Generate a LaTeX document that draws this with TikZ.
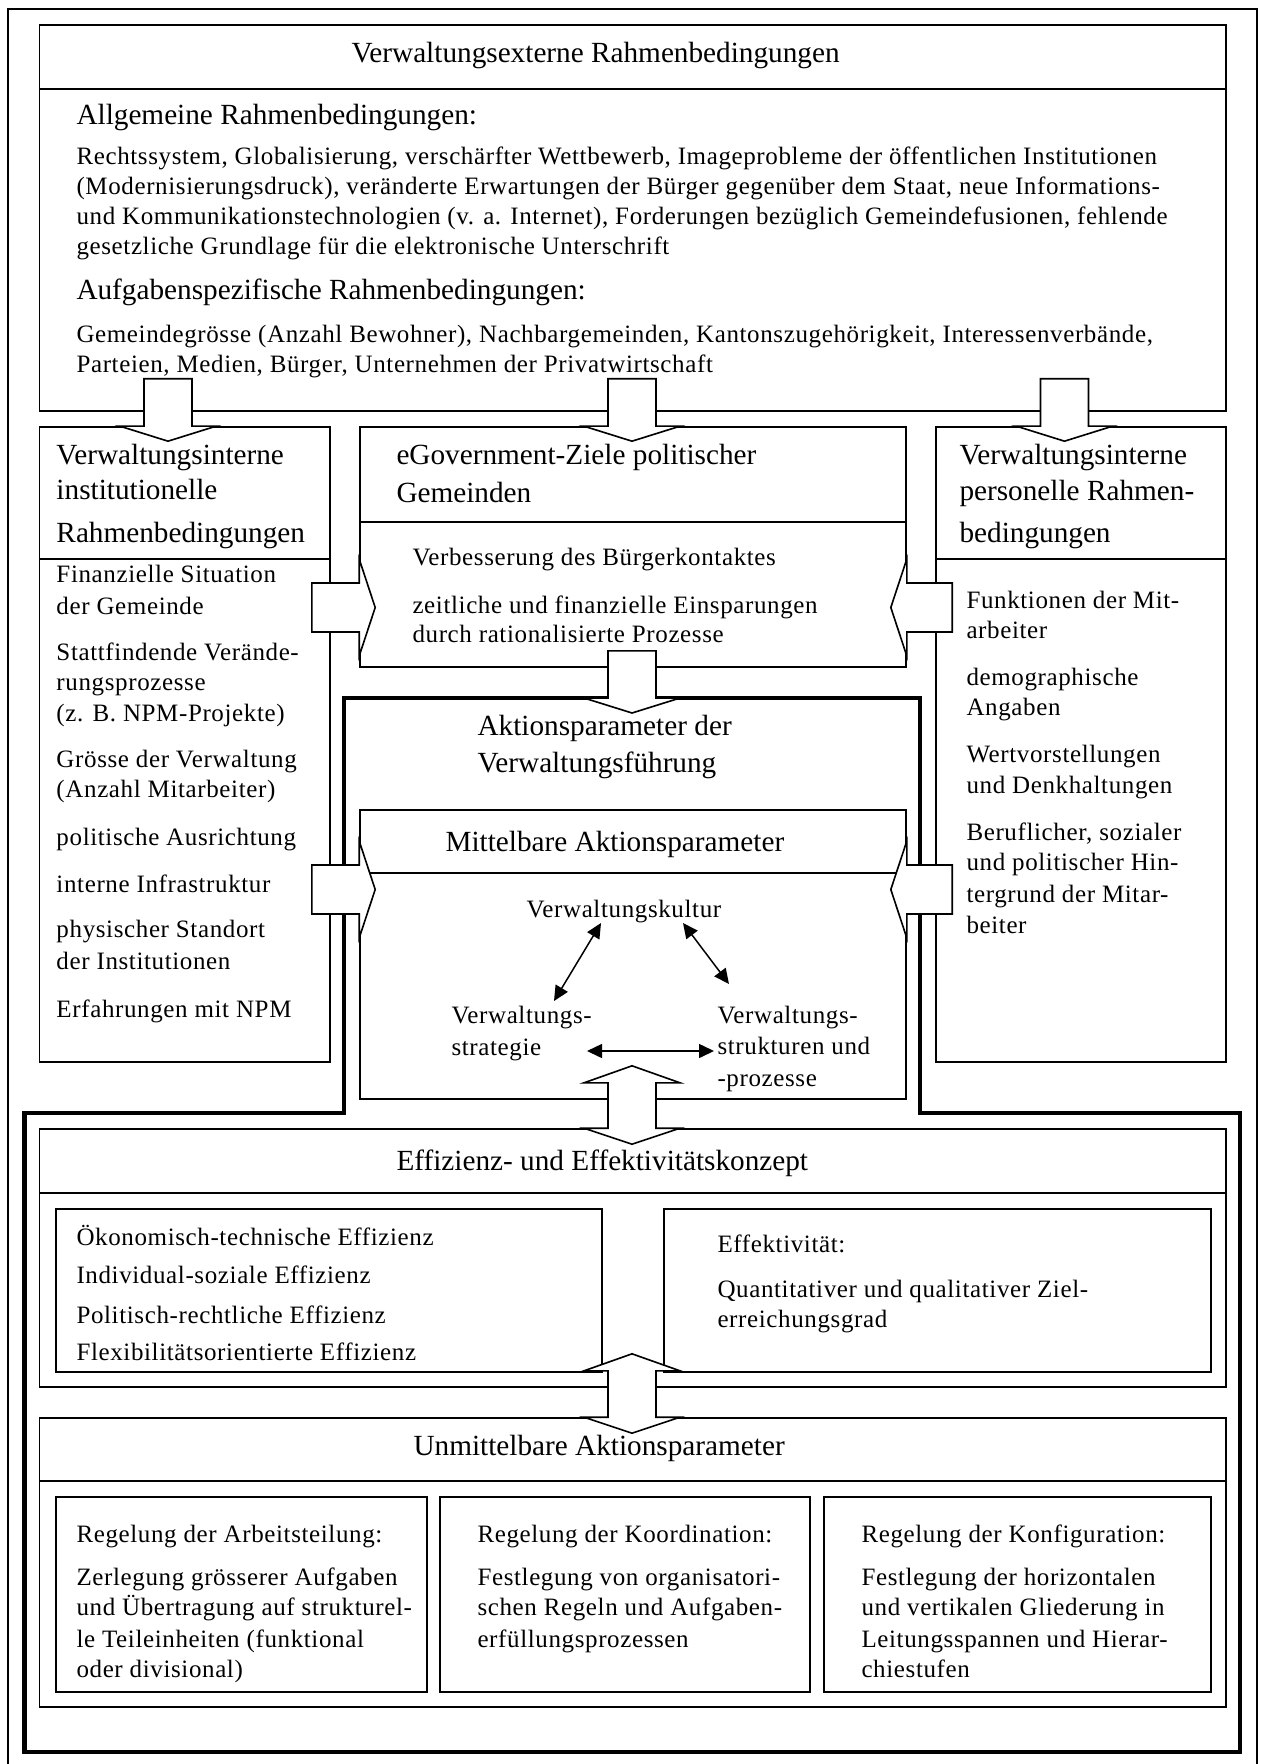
\documentclass[tikz,border=0pt]{standalone}
\usepackage{fontspec}
\setmainfont{Liberation Serif}
\newfontfamily\bodyfont[LetterSpace=2.5]{Liberation Serif}
\usetikzlibrary{calc,fit,arrows.meta}

% block arrow outlines, filled white so they cover the lines they cross
\newcommand\blkdown[2]{% #1 top of shaft, #2 centre of head base
  \draw[blockarrow] ($(#1)+(-24,0)$) -- ($(#1)+(24,0)$) -- ($(#2)+(24,0)$) -- ($(#2)+(48,0)$)
    -- ($(#2)+(0,15)$) -- ($(#2)+(-48,0)$) -- ($(#2)+(-24,0)$) -- cycle;}
\newcommand\blkside[3]{% #1 end of shaft, #2 centre of head base, #3 signed tip length
  \draw[blockarrow] ($(#1)+(0,-24.5)$) -- ($(#2)+(0,-24.5)$) -- ($(#2)+(0,-48.5)$) -- ($(#2)+(#3,0)$)
    -- ($(#2)+(0,48.5)$) -- ($(#2)+(0,24.5)$) -- ($(#1)+(0,24.5)$) -- cycle;}
\newcommand\blkupdown[2]{% #1 upper head base, #2 lower head base
  \draw[blockarrow] ($(#1)+(-24,0)$) -- ($(#1)+(-48,0)$) -- ($(#1)+(0,-17)$) -- ($(#1)+(48,0)$)
    -- ($(#1)+(24,0)$) -- ($(#2)+(24,0)$) -- ($(#2)+(48,0)$) -- ($(#2)+(0,16)$)
    -- ($(#2)+(-48,0)$) -- ($(#2)+(-24,0)$) -- cycle;}

\begin{document}
\begin{tikzpicture}[x=0.4pt,y=-0.4pt,
  box/.style={draw, line width=0.65pt, inner sep=0pt},
  blockarrow/.style={draw, fill=white, line width=0.65pt, line join=miter},
  thickframe/.style={line width=1.8pt, line join=miter},
  head/.style={anchor=base west, inner sep=0pt, font=\fontsize{11.7}{14}\selectfont},
  txt/.style={anchor=base west, inner sep=0pt, font=\bodyfont\fontsize{10}{12}\selectfont},
  dbl/.style={{Triangle[length=6pt,width=5.6pt]}-{Triangle[length=6pt,width=5.6pt]}, line width=0.6pt}
]
\useasboundingbox (0,0) rectangle (1260,1764);

% outer thin frame
\draw[line width=0.65pt] (8,1764) -- (8,9) -- (1257,9) -- (1257,1764);

% boxes
\node[box, fit={(39.6,25) (1226,89)}] (exthead) {};
\node[box, fit={(39.6,89) (1226,411)}] (extbody) {};
\node[box, fit={(39.6,427) (330,559)}] (lhead) {};
\node[box, fit={(39.6,559) (330,1062)}] (lbody) {};
\node[box, fit={(360,427) (906,522)}] (eghead) {};
\node[box, fit={(360,522) (906,667)}] (egbody) {};
\node[box, fit={(936,427) (1226,559)}] (rhead) {};
\node[box, fit={(936,559) (1226,1062)}] (rbody) {};
\node[box, fit={(360,810) (906,873)}] (mhead) {};
\node[box, fit={(360,873) (906,1099)}] (mbody) {};
\node[box, fit={(39.6,1129) (1226,1193)}] (effhead) {};
\node[box, fit={(39.6,1193) (1226,1387)}] (effbody) {};
\node[box, fit={(56,1209) (602,1372)}] (effL) {};
\node[box, fit={(664,1209) (1211,1372)}] (effR) {};
\node[box, fit={(39.6,1418) (1226,1481)}] (unhead) {};
\node[box, fit={(39.6,1481) (1226,1707)}] (unbody) {};
\node[box, fit={(56,1497) (427,1692)}] (un1) {};
\node[box, fit={(440,1497) (810,1692)}] (un2) {};
\node[box, fit={(824,1497) (1211,1692)}] (un3) {};

% heavy outline around the action parameters
\draw[thickframe] (344,698) -- (920,698) -- (920,1113) -- (1240,1113) -- (1240,1752)
  -- (24.5,1752) -- (24.5,1113) -- (344,1113) -- cycle;
\coordinate (akttop) at (632,698);

% arrow columns and rows
\coordinate (colL) at (168,0);
\coordinate (colC) at (632,0);
\coordinate (colR) at (1064.5,0);
\coordinate (rowA) at (0,607.5);
\coordinate (rowB) at (0,889.5);

% downward arrows from the external conditions
\path (extbody.south -| colL) ++(0,-33) coordinate (aLt);
\path (lhead.north -| colL) coordinate (aLb);
\path (extbody.south -| colC) ++(0,-33) coordinate (aCt);
\path (eghead.north -| colC) coordinate (aCb);
\path (extbody.south -| colR) ++(0,-33) coordinate (aRt);
\path (rhead.north -| colR) coordinate (aRb);
\blkdown{aLt}{aLb}
\blkdown{aCt}{aCb}
\blkdown{aRt}{aRb}

% goals into action parameters
\path (egbody.south -| colC) ++(0,-17) coordinate (aGt);
\blkdown{aGt}{akttop}

% side arrows
\path (lbody.east |- rowA) ++(-19,0) coordinate (sLAs);
\path (egbody.west |- rowA) coordinate (sLAb);
\path (rbody.west |- rowA) ++(17,0) coordinate (sRAs);
\path (egbody.east |- rowA) coordinate (sRAb);
\blkside{sLAs}{sLAb}{16}
\blkside{sRAs}{sRAb}{-16}
\path (lbody.east |- rowB) ++(-19,0) coordinate (sLBs);
\path (mbody.west |- rowB) coordinate (sLBb);
\path (rbody.west |- rowB) ++(17,0) coordinate (sRBs);
\path (mbody.east |- rowB) coordinate (sRBb);
\blkside{sLBs}{sLBb}{16}
\blkside{sRBs}{sRBb}{-16}

% two-way arrows down the middle
\path (mbody.south -| colC) ++(0,-17) coordinate (d1t);
\path (effhead.north -| colC) coordinate (d1b);
\blkupdown{d1t}{d1b}
\path (effbody.south -| colC) ++(0,-17) coordinate (d2t);
\path (unhead.north -| colC) coordinate (d2b);
\blkupdown{d2t}{d2b}

% external conditions
\node[head] (exttitle) at (351,63) {Verwaltungsexterne Rahmenbedingungen};
\node[head] (allg) at (76,125) {Allgemeine Rahmenbedingungen:};
\node[txt] (allg1) at (76,165) {Rechtssystem, Globalisierung, verschärfter Wettbewerb, Imageprobleme der öffentlichen Institutionen};
\node[txt] (allg2) at (76,195) {(Modernisierungsdruck), veränderte Erwartungen der Bürger gegenüber dem Staat, neue Informations-};
\node[txt] (allg3) at (76,225) {und Kommunikationstechnologien (v. a. Internet), Forderungen bezüglich Gemeindefusionen, fehlende};
\node[txt] (allg4) at (76,255) {gesetzliche Grundlage für die elektronische Unterschrift};
\node[head] (aufg) at (76,300) {Aufgabenspezifische Rahmenbedingungen:};
\node[txt] (aufg1) at (76,343) {Gemeindegrösse (Anzahl Bewohner), Nachbargemeinden, Kantonszugehörigkeit, Interessenverbände,};
\node[txt] (aufg2) at (76,373) {Parteien, Medien, Bürger, Unternehmen der Privatwirtschaft};

% internal institutional conditions
\node[head] (lt1) at (56,464) {Verwaltungsinterne};
\node[head] (lt2) at (56,499) {institutionelle};
\node[head] (lt3) at (56,542) {Rahmenbedingungen};
\node[txt] (l1) at (56,582) {Finanzielle Situation};
\node[txt] (l2) at (56,614) {der Gemeinde};
\node[txt] (l3) at (56,660) {Stattfindende Verände-};
\node[txt] (l4) at (56,690) {rungsprozesse};
\node[txt] (l5) at (56,721) {(z. B. NPM-Projekte)};
\node[txt] (l6) at (56,767) {Grösse der Verwaltung};
\node[txt] (l7) at (56,797) {(Anzahl Mitarbeiter)};
\node[txt] (l8) at (56,845) {politische Ausrichtung};
\node[txt] (l9) at (56,892) {interne Infrastruktur};
\node[txt] (l10) at (56,937) {physischer Standort};
\node[txt] (l11) at (56,969) {der Institutionen};
\node[txt] (l12) at (56,1017) {Erfahrungen mit NPM};

% eGovernment goals
\node[head] (gt1) at (396,464) {eGovernment-Ziele politischer};
\node[head] (gt2) at (396,502) {Gemeinden};
\node[txt] (g1) at (412,565) {Verbesserung des Bürgerkontaktes};
\node[txt] (g2) at (412,613) {zeitliche und finanzielle Einsparungen};
\node[txt] (g3) at (412,642) {durch rationalisierte Prozesse};

% internal personnel conditions
\node[head] (rt1) at (959,464) {Verwaltungsinterne};
\node[head] (rt2) at (959,500) {personelle Rahmen-};
\node[head] (rt3) at (959,542) {bedingungen};
\node[txt] (r1) at (966,608) {Funktionen der Mit-};
\node[txt] (r2) at (966,638) {arbeiter};
\node[txt] (r3) at (966,685) {demographische};
\node[txt] (r4) at (966,715) {Angaben};
\node[txt] (r5) at (966,762) {Wertvorstellungen};
\node[txt] (r6) at (966,793) {und Denkhaltungen};
\node[txt] (r7) at (966,840) {Beruflicher, sozialer};
\node[txt] (r8) at (966,870) {und politischer Hin-};
\node[txt] (r9) at (966,902) {tergrund der Mitar-};
\node[txt] (r10) at (966,933) {beiter};

% action parameters
\node[head] (at1) at (477,735) {Aktionsparameter der};
\node[head] (at2) at (477,772) {Verwaltungsführung};
\node[head] (mt) at (445,851) {Mittelbare Aktionsparameter};
\node[txt] (kultur) at (526,917) {Verwaltungskultur};
\node[txt] (strat1) at (451,1023) {Verwaltungs-};
\node[txt] (strat2) at (451,1055) {strategie};
\node[txt] (struk1) at (717,1023) {Verwaltungs-};
\node[txt] (struk2) at (717,1054) {strukturen und};
\node[txt] (struk3) at (717,1086) {-prozesse};
\draw[dbl] ($(kultur.base west)+(75,6)$) -- ($(strat1.base west)+(103,-22)$);
\draw[dbl] ($(kultur.base west)+(157,6)$) -- ($(struk1.base west)+(12,-39)$);
\draw[dbl] ($(strat2.base west)+(136,-4)$) -- ($(struk2.base west)+(-3,-3)$);

% efficiency and effectiveness
\node[head] (et) at (396,1170) {Effizienz- und Effektivitätskonzept};
\node[txt] (e1) at (76,1245) {Ökonomisch-technische Effizienz};
\node[txt] (e2) at (76,1283) {Individual-soziale Effizienz};
\node[txt] (e3) at (76,1323) {Politisch-rechtliche Effizienz};
\node[txt] (e4) at (76,1360) {Flexibilitätsorientierte Effizienz};
\node[txt] (f1) at (717,1252) {Effektivität:};
\node[txt] (f2) at (717,1297) {Quantitativer und qualitativer Ziel-};
\node[txt] (f3) at (717,1327) {erreichungsgrad};

% direct action parameters
\node[head] (ut) at (413,1455) {Unmittelbare Aktionsparameter};
\node[txt] (u11) at (76,1542) {Regelung der Arbeitsteilung:};
\node[txt] (u12) at (76,1585) {Zerlegung grösserer Aufgaben};
\node[txt] (u13) at (76,1615) {und Übertragung auf strukturel-};
\node[txt] (u14) at (76,1647) {le Teileinheiten (funktional};
\node[txt] (u15) at (76,1677) {oder divisional)};
\node[txt] (u21) at (477,1542) {Regelung der Koordination:};
\node[txt] (u22) at (477,1585) {Festlegung von organisatori-};
\node[txt] (u23) at (477,1615) {schen Regeln und Aufgaben-};
\node[txt] (u24) at (477,1647) {erfüllungsprozessen};
\node[txt] (u31) at (861,1542) {Regelung der Konfiguration:};
\node[txt] (u32) at (861,1585) {Festlegung der horizontalen};
\node[txt] (u33) at (861,1615) {und vertikalen Gliederung in};
\node[txt] (u34) at (861,1647) {Leitungsspannen und Hierar-};
\node[txt] (u35) at (861,1677) {chiestufen};
\end{tikzpicture}
\end{document}
